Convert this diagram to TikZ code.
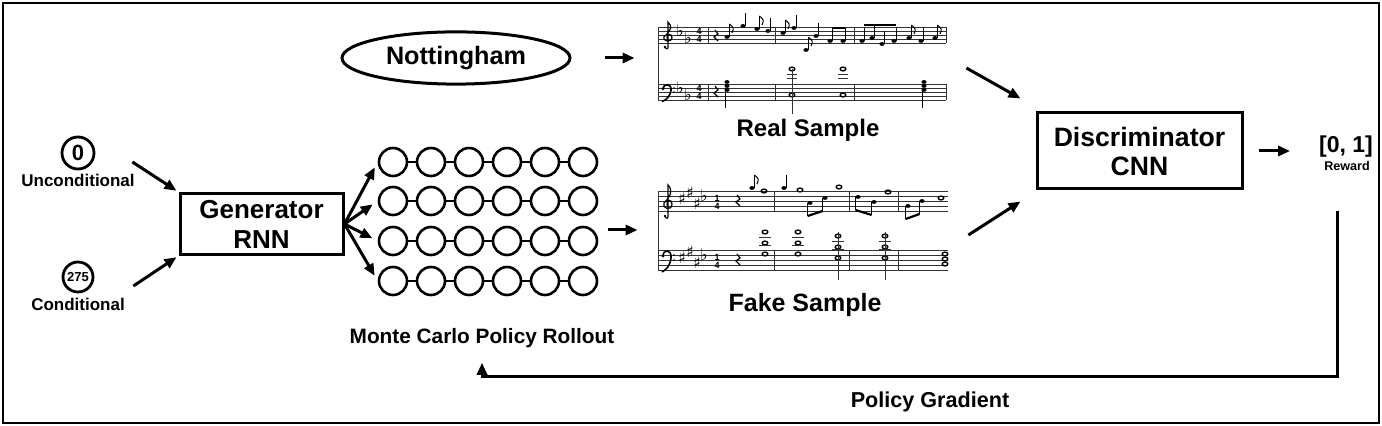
\documentclass[tikz,border=0pt]{standalone}
\usepackage{fontspec}
\setmainfont{Liberation Sans}
\newfontfamily\musicfont{DejaVu Sans}
\usetikzlibrary{arrows.meta,positioning,shapes.geometric,calc}
\definecolor{inkgray}{HTML}{333333}
% little score helpers (coordinates in pixels)
\newcommand{\nhead}[2]{\fill (#1,#2) ellipse [x radius=2.6, y radius=1.9];}
\newcommand{\nup}[2]{\nhead{#1}{#2}\draw[stem] (#1+2.4,#2) -- ++(0,-13);}
\newcommand{\ndown}[2]{\nhead{#1}{#2}\draw[stem] (#1-2.4,#2) -- ++(0,13);}
\newcommand{\nopen}[2]{\draw[line width=0.7pt] (#1,#2) ellipse [x radius=2.8, y radius=1.9];}
\newcommand{\nflag}[2]{\draw[stem] (#1+2.4,#2-13) .. controls (#1+7,#2-9) .. (#1+5,#2-4);}
\newcommand{\nrest}[2]{\draw[line width=0.6pt] (#1-1,#2-6) -- (#1+2,#2-2) -- (#1-2,#2+1) -- (#1+2,#2+5);}
\newcommand{\tclef}[3]{% x, y (middle line), half staff height
  \draw[line width=0.6pt,line cap=round]
    (#1-2,#2+1.5*#3) .. controls (#1-1,#2+1.9*#3) and (#1+2,#2+1.7*#3) .. (#1+1,#2+1.4*#3)
    -- (#1+1,#2-1.6*#3) .. controls (#1+6,#2-1.1*#3) and (#1+4,#2-0.5*#3) .. (#1-3,#2+0.2*#3)
    .. controls (#1-6,#2+0.7*#3) and (#1+5,#2+1.1*#3) .. (#1+5,#2+0.3*#3)
    .. controls (#1+5,#2-0.2*#3) and (#1-1,#2-0.2*#3) .. (#1,#2+0.4*#3);
  \fill (#1-2,#2+1.5*#3) circle (1.3);}
\newcommand{\bclef}[3]{%
  \fill (#1-3,#2-0.4*#3) circle (1.6);
  \draw[line width=0.8pt] (#1-3,#2-0.4*#3) .. controls (#1-3,#2-1.1*#3) and (#1+6,#2-1.1*#3) .. (#1+5,#2-0.2*#3)
    .. controls (#1+4,#2+0.6*#3) and (#1,#2+1*#3) .. (#1-4,#2+1.2*#3);
  \fill (#1+8,#2-0.5*#3) circle (0.9) (#1+8,#2) circle (0.9);}
\begin{document}
\begin{tikzpicture}[x=0.5pt,y=-0.5pt,
    box/.style={draw,line width=1.5pt,align=center,font=\fontsize{13}{15}\selectfont\bfseries},
    flow/.style={-{Triangle[length=6pt,width=5pt]},line width=1.5pt},
    cell/.style={circle,draw,line width=1.3pt,minimum size=14pt,inner sep=0pt},
    seed/.style={circle,draw,line width=1.4pt,inner sep=0pt,font=\bfseries},
    lab/.style={font=\fontsize{8.5}{10}\selectfont\bfseries,inner sep=0pt},
    title/.style={font=\fontsize{12}{14}\selectfont\bfseries},
    staffline/.style={inkgray,line width=0.4pt},
    stem/.style={line width=0.5pt},
    acc/.style={font=\musicfont\fontsize{8}{8}\selectfont,inner sep=0pt},
    tsig/.style={font=\fontsize{4.5}{4.5}\selectfont\bfseries,inner sep=0pt}]
  \useasboundingbox (0,0) rectangle (1382,426);
  \draw[line width=0.8pt] (3,3) rectangle (1379,423);

  % inputs and generator
  \node[seed,minimum size=16pt,font=\fontsize{11}{11}\selectfont\bfseries] (zero) at (78,153) {0};
  \node[lab] (uncond) at (78,180) {Unconditional};
  \node[seed,minimum size=15pt,font=\fontsize{6.5}{7}\selectfont\bfseries] (seed) at (78,277) {275};
  \node[lab] (cond) at (78,304) {Conditional};
  \node[box,minimum width=81.5pt,minimum height=30pt] (gen) at (261.5,224) {Generator\\RNN};
  \draw[flow] ($(zero.east)+(37,9)$) -- ($(gen.north west)+(-2,-1)$);
  \draw[flow] ($(seed.east)+(39,9)$) -- ($(gen.south west)+(-2,1)$);

  % rollout grid
  \foreach \row/\y in {1/162,2/201,3/241,4/281}{
    \foreach \col in {1,...,6}
      \node[cell] (c\row\col) at ({393+38*(\col-1)},\y) {};
    \foreach \col [count=\nxt from 2] in {1,...,5}
      \draw[line width=1.3pt] (c\row\col) -- (c\row\nxt);
    \draw[flow,shorten >=3pt] (gen.east) -- (c\row1.west);
  }
  \node[minimum width=109pt,minimum height=70pt] (roll) at (488,222) {};
  \node[font=\fontsize{10.4}{12}\selectfont\bfseries] (mclab) at (482,338) {Monte Carlo Policy Rollout};

  % data
  \node[ellipse,draw,line width=1.5pt,minimum width=114pt,minimum height=25pt,
        font=\fontsize{12.6}{14}\selectfont\bfseries] (nott) at (456,58) {Nottingham};
  \node[minimum width=144pt,minimum height=50pt,inner sep=0pt] (real) at (802,63) {};
  \node[minimum width=145pt,minimum height=50pt,inner sep=0pt] (fake) at (803,230) {};
  \node[title] (reallab) at (808,130) {Real Sample};
  \node[title,font=\fontsize{12.5}{14}\selectfont\bfseries] (fakelab) at (805,305) {Fake Sample};

  % real score
  \foreach \k in {0,...,4}{
    \draw[staffline] (658,27+4*\k) -- (946,27+4*\k);
    \draw[staffline] (658,84+4*\k) -- (946,84+4*\k);
  }
  \draw[staffline] (658,27) -- (658,100);
  \foreach \bx in {708,775,854,946}{
    \draw[staffline] (\bx,27) -- (\bx,43);
    \draw[staffline] (\bx,84) -- (\bx,100);
  }
  \tclef{667}{35}{8}
  \bclef{666}{92}{8}
  \node[acc] at (680,31) {♭}; \node[acc] at (688,38) {♭};
  \node[acc] at (680,88) {♭}; \node[acc] at (688,95) {♭};
  \node[tsig] at (699,31) {4}; \node[tsig] at (699,39) {4};
  \node[tsig] at (699,88) {4}; \node[tsig] at (699,96) {4};
  \nrest{716}{36}
  \nup{727}{37}\nflag{727}{37}
  \nup{743}{26} \nup{757}{29}\nflag{757}{29} \nup{768}{31}
  \nup{783}{33}\nflag{783}{33} \nup{794}{28}
  \nup{806}{50}\nflag{806}{50} \nup{816}{36}
  \nup{830}{41} \nup{843}{41}
  \draw[line width=1.1pt] (832.4,28) -- (845.4,28);
  \nup{862}{41} \nup{872}{38} \nup{882}{44} \nup{894}{41}
  \draw[line width=1.1pt] (864.4,25) -- (896.4,25);
  \nup{909}{38}\nflag{909}{38} \nup{921}{41} \nup{935}{38}\nflag{935}{38}
  % real bass
  \nrest{716}{92}
  \foreach \yy in {82,86,90}{\nhead{727}{\yy}}
  \draw[stem] (725,90) -- (725,108);
  \foreach \bx in {792,843}{
    \nopen{\bx}{95} \nopen{\bx}{69}
    \draw[staffline] (\bx-5,74) -- (\bx+5,74);
    \draw[staffline] (\bx-5,78) -- (\bx+5,78);
  }
  \draw[staffline] (792,69) -- (792,114);
  \foreach \yy in {82,86,90}{\nhead{924}{\yy}}
  \draw[stem] (922,90) -- (922,108);

  % fake score
  \foreach \k in {0,...,4}{
    \draw[staffline] (658,191+5*\k) -- (948,191+5*\k);
    \draw[staffline] (658,250+5*\k) -- (948,250+5*\k);
  }
  \draw[staffline] (658,191) -- (658,270);
  \foreach \bx in {774,849,898}{
    \draw[staffline] (\bx,191) -- (\bx,211);
    \draw[staffline] (\bx,250) -- (\bx,270);
  }
  \tclef{667}{201}{10}
  \bclef{666}{260}{10}
  \foreach \ax/\ay/\sg in {682/199/♯,690/193/♯,697/204/♯,704/196/♭}{
    \node[acc] at (\ax,\ay) {\sg};
    \node[acc] at (\ax,\ay+59) {\sg};
  }
  \node[tsig] at (717,198) {1}; \node[tsig] at (717,206) {4};
  \node[tsig] at (717,257) {1}; \node[tsig] at (717,265) {4};
  \nrest{738}{201} \nrest{738}{260}
  \nup{752}{188}\nflag{752}{188} \nopen{764}{191}
  \nup{784}{188} \nopen{800}{190}
  \ndown{810}{203} \ndown{825}{198}
  \draw[line width=1.1pt] (807.6,216) -- (822.6,211);
  \nopen{839}{187}
  \ndown{858}{197} \ndown{874}{202}
  \draw[line width=1.1pt] (855.6,210) -- (871.6,215);
  \nopen{888}{192}
  \ndown{908}{206} \ndown{922}{201}
  \draw[line width=1.1pt] (905.6,219) -- (919.6,214);
  \nopen{941}{198}
  % fake bass
  \foreach \bx/\yo in {765/0,798/0,838/4,885/4}{
    \foreach \yy in {232,243,254}{\nopen{\bx}{\yy+\yo}}
    \draw[staffline] (\bx-6,237+\yo) -- (\bx+6,237+\yo);
    \draw[staffline] (\bx-6,245+\yo) -- (\bx+6,245+\yo);
  }
  \draw[staffline] (838,232) -- (838,280);
  \draw[staffline] (885,232) -- (885,280);
  \foreach \yy in {254,259,264}{\nopen{945}{\yy}}

  % discriminator and reward
  \node[box,minimum width=102.5pt,minimum height=38pt,font=\fontsize{13.3}{14.5}\selectfont\bfseries] (disc) at (1139.5,151) {Discriminator\\CNN};
  \node[font=\fontsize{11.5}{12}\selectfont\bfseries] (rwd) at (1346,147) {[0, 1]};
  \node[font=\fontsize{6.3}{7}\selectfont\bfseries] (rwlab) at (1347,166) {Reward};
  \coordinate (fb) at (1337,377);

  \draw[flow,shorten <=16.5pt,shorten >=11.5pt] (nott.east) -- (nott.east -| real.west);
  \draw[flow,shorten <=5.5pt,shorten >=10pt] (roll.east |- fake.west) -- (fake.west);
  \draw[flow] ($(real.east)+(20,5)$) -- ($(disc.north west)+(-15,-13)$);
  \draw[flow] ($(fake.east)+(20,5)$) -- ($(disc.south west)+(-15,11)$);
  \draw[flow,shorten <=7.5pt,shorten >=11pt] (disc.east) -- (disc.east -| rwd.west);
  \draw[flow,shorten <=16.5pt,shorten >=4pt] (fb |- rwlab.south) -- (fb) -| (mclab.south);
  \node[font=\fontsize{10.8}{12}\selectfont\bfseries] (pglab) at (930,402) {Policy Gradient};
\end{tikzpicture}
\end{document}
